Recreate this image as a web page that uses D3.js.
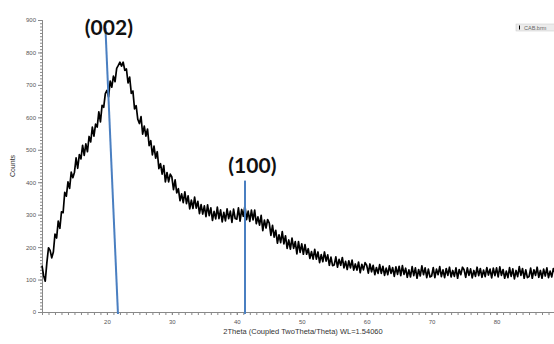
<!DOCTYPE html>
<html>
<head>
<meta charset="utf-8">
<script src="https://cdn.jsdelivr.net/npm/d3@7"></script>
<style>
  body { margin: 0; background: #fff; }
  svg { display: block; font-family: "Liberation Sans", Arial, sans-serif; }
</style>
</head>
<body>
<svg id="chart"></svg>
<script>
const width = 554;
const height = 344;

// scan settings (2theta, degrees)
const angleStart = 10;
const angleStep = 0.25;

// counts, one per step from 10 to 89 deg
const counts = [
  143,112,95,152,198,190,167,185,240,228,280,258,309,306,369,357,401,381,431,414,
  431,475,443,485,472,514,483,518,494,541,524,570,542,579,570,617,586,637,631,673,
  683,663,712,693,727,710,751,760,770,758,770,745,749,706,724,674,681,626,636,594,
  581,602,548,573,542,564,513,528,484,511,474,494,442,457,425,451,401,430,401,425,
  416,377,407,367,380,343,364,337,370,334,358,318,345,319,354,320,341,303,331,302,
  327,294,330,297,321,282,310,287,323,288,315,278,307,281,318,288,311,276,317,288,
  286,321,280,316,295,327,285,311,279,314,284,314,272,293,268,298,251,283,259,285,
  274,236,267,231,252,212,238,214,248,210,235,196,222,194,228,196,217,179,217,184,
  210,178,208,178,195,165,186,163,193,163,185,152,177,155,185,157,176,144,169,143,
  145,170,138,162,144,168,136,156,131,158,136,160,129,148,129,154,121,147,130,152,
  144,120,148,124,144,115,137,119,146,119,141,113,135,115,142,119,137,110,139,116,
  141,112,143,116,135,107,130,108,140,112,136,104,131,111,142,115,136,106,132,108,
  111,137,106,132,115,140,109,130,106,134,113,138,108,128,110,136,104,131,115,138,
  130,107,136,113,133,105,128,110,138,112,134,107,129,109,137,114,132,105,135,112,
  136,108,139,113,131,104,126,106,137,110,133,102,128,109,140,113,134,104,130,106,
  109,135,104,130,113,138,107,128,104,132,111,136,106,126,108,134,120
];

// peak markers
const peakNames = ['(002)', '(100)'];
const peakLineTop = [[19.77, 875], [41.26, 405]];
const peakLineBottom = [[21.7, -6], [41.26, -6]];
const peakLabelAt = [[20.3, 881], [42.4, 455]];

const xTicks = [20, 30, 40, 50, 60, 70, 80];
const yTicks = [0, 100, 200, 300, 400, 500, 600, 700, 800, 900];
const legendName = 'CAB.brm';

const svg = d3.select('#chart').attr('width', width).attr('height', height);
const x = d3.scaleLinear().domain([10, 89]).range([42, 555]);
const y = d3.scaleLinear().domain([0, 900]).range([312, 20]);

const points = counts.map((c, i) => [angleStart + i * angleStep, c]);

// y axis
const yAxis = svg.append('g').attr('transform', `translate(${x(10)},0)`);
yAxis.call(d3.axisLeft(y).tickValues(d3.range(0, 901, 10)).tickSize(2).tickFormat(''));
yAxis.call(g => g.append('g').call(d3.axisLeft(y).tickValues(yTicks).tickSize(4).tickPadding(2)));
yAxis.selectAll('path, line').attr('stroke', '#888');
yAxis.selectAll('text').attr('fill', '#555').style('font-size', '6px');

// x axis
const xAxis = svg.append('g').attr('transform', `translate(0,${y(0)})`);
xAxis.call(d3.axisBottom(x).tickValues(d3.range(11, 89, 1)).tickSize(3).tickFormat(''));
xAxis.call(g => g.append('g').call(d3.axisBottom(x).tickValues(xTicks).tickSize(3).tickPadding(5)));
xAxis.selectAll('path, line').attr('stroke', '#888');
xAxis.selectAll('text').attr('fill', '#555').style('font-size', '6px');

// trace
const line = d3.line().x(d => x(d[0])).y(d => y(d[1]));
svg.append('path').datum(points).attr('d', line)
  .attr('fill', 'none').attr('stroke', '#000').attr('stroke-width', 1.7).attr('stroke-linejoin', 'round');

// peak lines and labels
peakNames.forEach((name, i) => {
  svg.append('line')
    .attr('x1', x(peakLineTop[i][0])).attr('y1', y(peakLineTop[i][1]))
    .attr('x2', x(peakLineBottom[i][0])).attr('y2', y(peakLineBottom[i][1]))
    .attr('stroke', '#4a7fc1').attr('stroke-width', 2);
  svg.append('text').text(name)
    .attr('x', x(peakLabelAt[i][0])).attr('y', y(peakLabelAt[i][1]))
    .attr('text-anchor', 'middle').attr('dominant-baseline', 'central')
    .style('font-family', 'Lato, "Open Sans", sans-serif')
    .style('font-weight', 'bold').style('font-size', '21px').attr('fill', '#111');
});

// axis titles
svg.append('text').text('Counts')
  .attr('transform', `translate(15,${(y(0) + y(900)) / 2}) rotate(-90)`)
  .attr('text-anchor', 'middle').style('font-size', '7px').attr('fill', '#333');
svg.append('text').text('2Theta (Coupled TwoTheta/Theta) WL=1.54060')
  .attr('x', 303).attr('y', 334)
  .attr('text-anchor', 'middle').style('font-size', '7.5px').attr('fill', '#333');

// legend
const legend = svg.append('g').attr('transform', 'translate(516,24)');
legend.append('rect').attr('width', 40).attr('height', 7).attr('fill', '#ececec').attr('stroke', '#c8c8c8').attr('stroke-width', 0.5);
legend.append('line').attr('x1', 3.5).attr('x2', 3.5).attr('y1', 1.5).attr('y2', 5.5).attr('stroke', '#000').attr('stroke-width', 1);
legend.append('text').text(legendName).attr('x', 8).attr('y', 5.5).style('font-size', '5.5px').attr('fill', '#666');
</script>
</body>
</html>
